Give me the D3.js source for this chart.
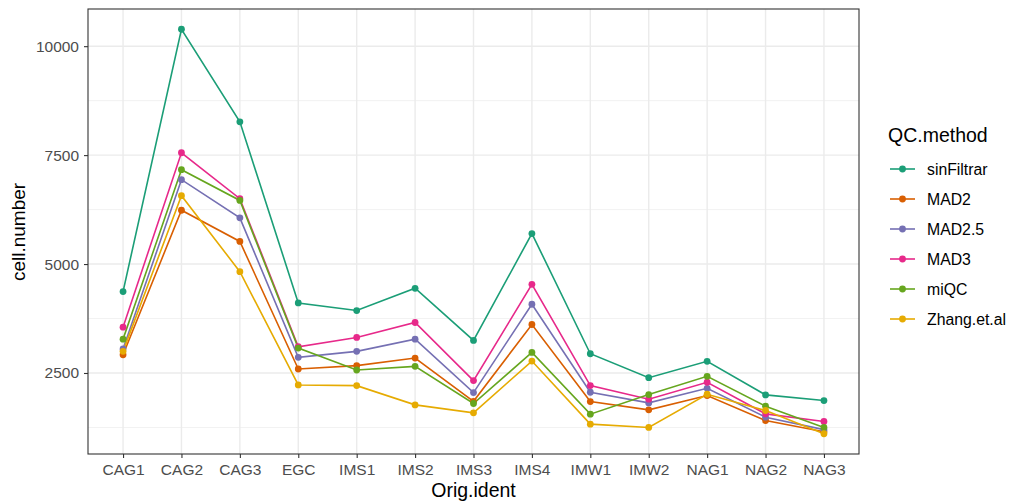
<!DOCTYPE html>
<html>
<head>
<meta charset="utf-8">
<script src="https://cdn.jsdelivr.net/npm/d3@7"></script>
<style>
  html, body { margin: 0; padding: 0; background: #fff; }
  svg { display: block; font-family: "Liberation Sans", Arial, sans-serif; }
</style>
</head>
<body>
<svg id="chart" width="1009" height="504"></svg>
<script>
// Samples on the x axis
const categories = ["CAG1","CAG2","CAG3","EGC","IMS1","IMS2","IMS3","IMS4","IMW1","IMW2","NAG1","NAG2","NAG3"];

// QC methods (legend order) and their colours
const methods = ["sinFiltrar","MAD2","MAD2.5","MAD3","miQC","Zhang.et.al"];
const methodColors = ["#1B9E77","#D95F02","#7570B3","#E7298A","#66A61E","#E6AB02"];

// Cell numbers per method, one value per sample
const sinFiltrar = [4368,10389,8263,4108,3933,4444,3247,5700,2942,2393,2767,1997,1867];
const MAD2       = [2919,6235,5519,2591,2668,2843,1850,3613,1845,1654,1982,1410,1150];
const MAD25      = [3050,6936,6060,2859,2996,3277,2050,4078,2058,1814,2149,1486,1200];
const MAD3       = [3552,7554,6500,3102,3316,3659,2325,4535,2210,1898,2287,1562,1387];
const miQC       = [3277,7165,6460,3072,2569,2652,1800,2972,1555,2004,2424,1738,1250];
const Zhang      = [2996,6570,4825,2226,2210,1768,1585,2774,1326,1250,2012,1639,1105];

const yTicks = [2500, 5000, 7500, 10000];
const yMinor = [1250, 3750, 6250, 8750];

const seriesValues = [sinFiltrar, MAD2, MAD25, MAD3, miQC, Zhang];
const series = methods.map((m, i) => ({
  name: m,
  color: methodColors[i],
  values: categories.map((c, j) => ({ cat: c, v: seriesValues[i][j] }))
}));

const svg = d3.select("#chart");
const panel = { left: 88, top: 9, right: 859, bottom: 454 };

// x: discrete scale with 0.6 unit padding at both ends
const x = d3.scalePoint()
  .domain(categories)
  .range([panel.left, panel.right])
  .padding(0.6);

// y: continuous scale with 5% expansion of the data range
const allVals = seriesValues.flat();
const lo = d3.min(allVals), hi = d3.max(allVals);
const pad = (hi - lo) * 0.05;
const y = d3.scaleLinear()
  .domain([lo - pad, hi + pad])
  .range([panel.bottom, panel.top]);

// background panel
svg.append("rect")
  .attr("x", panel.left).attr("y", panel.top)
  .attr("width", panel.right - panel.left)
  .attr("height", panel.bottom - panel.top)
  .attr("fill", "#fff");

// grid lines
const grid = svg.append("g");
grid.selectAll("line.minor").data(yMinor).join("line")
  .attr("x1", panel.left).attr("x2", panel.right)
  .attr("y1", d => y(d)).attr("y2", d => y(d))
  .attr("stroke", "#F2F2F2").attr("stroke-width", 1);
grid.selectAll("line.majy").data(yTicks).join("line")
  .attr("x1", panel.left).attr("x2", panel.right)
  .attr("y1", d => y(d)).attr("y2", d => y(d))
  .attr("stroke", "#EBEBEB").attr("stroke-width", 1.4);
grid.selectAll("line.majx").data(categories).join("line")
  .attr("x1", d => x(d)).attr("x2", d => x(d))
  .attr("y1", panel.top).attr("y2", panel.bottom)
  .attr("stroke", "#EBEBEB").attr("stroke-width", 1.4);

// lines and points
const line = d3.line().x(d => x(d.cat)).y(d => y(d.v));
const gS = svg.append("g");
series.forEach(s => {
  gS.append("path")
    .datum(s.values)
    .attr("d", line)
    .attr("fill", "none")
    .attr("stroke", s.color)
    .attr("stroke-width", 1.6);
});
series.forEach(s => {
  gS.selectAll(null).data(s.values).join("circle")
    .attr("cx", d => x(d.cat)).attr("cy", d => y(d.v))
    .attr("r", 3.4).attr("fill", s.color);
});

// panel border
svg.append("rect")
  .attr("x", panel.left).attr("y", panel.top)
  .attr("width", panel.right - panel.left)
  .attr("height", panel.bottom - panel.top)
  .attr("fill", "none").attr("stroke", "#333333").attr("stroke-width", 1.1);

// axes
const xAxis = svg.append("g")
  .attr("transform", `translate(0,${panel.bottom})`)
  .call(d3.axisBottom(x).tickSize(4).tickPadding(6));
const yAxis = svg.append("g")
  .attr("transform", `translate(${panel.left},0)`)
  .call(d3.axisLeft(y).tickValues(yTicks).tickFormat(d3.format("d")).tickSize(4).tickPadding(5));
[xAxis, yAxis].forEach(a => {
  a.select(".domain").remove();
  a.selectAll(".tick line").attr("stroke", "#333333").attr("stroke-width", 1.1);
  a.selectAll(".tick text").attr("fill", "#4D4D4D").attr("font-size", 15.5)
    .attr("font-family", "Liberation Sans, Arial, sans-serif");
});

// axis titles
svg.append("text")
  .attr("x", (panel.left + panel.right) / 2).attr("y", 497)
  .attr("text-anchor", "middle").attr("font-size", 19.5).attr("fill", "#000")
  .text("Orig.ident");
svg.append("text")
  .attr("transform", "translate(25,232) rotate(-90)")
  .attr("text-anchor", "middle").attr("font-size", 19).attr("fill", "#000")
  .text("cell.number");

// legend
const legend = svg.append("g").attr("transform", "translate(888,0)");
legend.append("text")
  .attr("x", 0).attr("y", 142)
  .attr("font-size", 19.5).attr("fill", "#000")
  .text("QC.method");
const item = legend.selectAll("g.item").data(series).join("g")
  .attr("transform", (d, i) => `translate(0,${169 + i * 30})`);
item.append("line")
  .attr("x1", 2).attr("x2", 27).attr("y1", 0).attr("y2", 0)
  .attr("stroke", d => d.color).attr("stroke-width", 1.6);
item.append("circle")
  .attr("cx", 14.5).attr("cy", 0).attr("r", 3.4)
  .attr("fill", d => d.color);
item.append("text")
  .attr("x", 39).attr("y", 0).attr("dy", "0.35em")
  .attr("font-size", 15.8).attr("fill", "#000")
  .text(d => d.name);
</script>
</body>
</html>
